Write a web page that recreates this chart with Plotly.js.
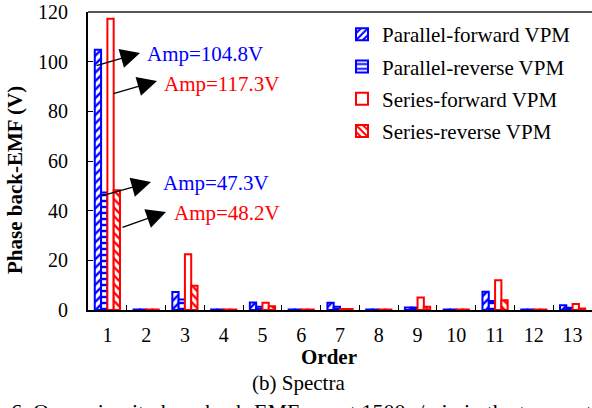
<!DOCTYPE html>
<html>
<head>
<meta charset="utf-8">
<script src="https://cdn.plot.ly/plotly-3.0.1.min.js"></script>
<style>html,body{margin:0;padding:0;background:#fff;}#chart{width:592px;height:408px;}</style>
</head>
<body>
<div id="chart"></div>
<script>
const orders = ['1','2','3','4','5','6','7','8','9','10','11','12','13'];
const parallelForward = [104.8, 0.2, 7.2, 0.2, 3.0, 0.2, 2.9, 0.2, 1.0, 0.2, 7.3, 0.2, 1.9];
const parallelReverse = [47.3, 0.2, 4.2, 0.2, 1.3, 0.2, 1.3, 0.2, 1.0, 0.2, 3.6, 0.2, 0.9];
const seriesForward = [117.3, 0.2, 22.5, 0.2, 2.9, 0.2, 0.4, 0.2, 5.0, 0.2, 12.0, 0.2, 2.4];
const seriesReverse = [48.2, 0.2, 9.8, 0.2, 1.5, 0.2, 0.4, 0.2, 1.3, 0.2, 3.9, 0.2, 0.6];
const seriesNames = ['Parallel-forward VPM','Parallel-reverse VPM','Series-forward VPM','Series-reverse VPM'];
const yTicks = [0, 20, 40, 60, 80, 100, 120];

const BLUE = '#0000ff', RED = '#ff0000';
const FONT = '"Liberation Serif"';

function bar(name, y, color, shape, group) {
  return {
    type: 'bar', name: name, x: orders, y: y, legendgroup: group,
    marker: {
      color: 'white',
      line: {color: color, width: 2},
      pattern: {shape: shape, fgcolor: color, bgcolor: 'white', size: 6, solidity: 0.4}
    },
    hoverinfo: 'skip'
  };
}
const traces = [
  bar(seriesNames[0], parallelForward, BLUE, '/', 'a'),
  bar(seriesNames[1], parallelReverse, BLUE, '-', 'b'),
  bar(seriesNames[2], seriesForward, RED, '', 'c'),
  bar(seriesNames[3], seriesReverse, RED, '\\', 'd')
];

// pixel -> paper helpers (plot area: x 88..592, y 12..310)
const L = 88, R = 592, T = 12, B = 310;
const PX = p => (p - L) / (R - L);
const PY = p => (B - p) / (B - T);

function arrow(x0, y0, x1, y1) {
  return {xref: 'paper', yref: 'paper', x: PX(x1), y: PY(y1), axref: 'pixel', ayref: 'pixel',
    ax: x0 - x1, ay: y0 - y1, text: '', showarrow: true, arrowhead: 2, arrowsize: 3,
    arrowwidth: 1.3, arrowcolor: 'black', standoff: 0, startstandoff: 0};
}
function label(txt, cx, cy, color) {
  return {xref: 'paper', yref: 'paper', x: PX(cx), y: PY(cy), text: txt, showarrow: false,
    xanchor: 'center', yanchor: 'middle', font: {family: FONT, size: 21, color: color}};
}

const annotations = [
  label('Amp=' + parallelForward[0] + 'V', 205, 54, BLUE),
  label('Amp=' + seriesForward[0] + 'V', 221, 84, RED),
  label('Amp=' + parallelReverse[0] + 'V', 216, 183, BLUE),
  label('Amp=' + seriesReverse[0] + 'V', 227, 213, RED),
  arrow(95, 66, 140, 53),
  arrow(112, 94, 157, 81),
  arrow(101, 196, 151, 182),
  arrow(121, 228, 166, 212),
  {xref: 'paper', yref: 'paper', x: PX(15), y: PY(180), text: '<b>Phase back-EMF (V)</b>', textangle: -90,
   showarrow: false, xanchor: 'center', yanchor: 'middle', font: {family: FONT, size: 21, color: 'black'}},
  {xref: 'paper', yref: 'paper', x: PX(329), y: PY(357), text: '<b>Order</b>',
   showarrow: false, xanchor: 'center', yanchor: 'middle', font: {family: FONT, size: 21, color: 'black'}},
  {xref: 'paper', yref: 'paper', x: PX(298), y: PY(383), text: '(b) Spectra',
   showarrow: false, xanchor: 'center', yanchor: 'middle', font: {family: FONT, size: 21, color: 'black'}},
  {xref: 'paper', yref: 'paper', x: PX(9), y: PY(397), text: '6. Open-circuit phase back-EMFs',
   showarrow: false, xanchor: 'left', yanchor: 'top', font: {family: FONT, size: 22, color: 'black'}},
  {xref: 'paper', yref: 'paper', x: PX(338), y: PY(397), text: 'at 1500 r/min in the two motors',
   showarrow: false, xanchor: 'left', yanchor: 'top', font: {family: FONT, size: 22, color: 'black'}}
];

const layout = {
  width: 592, height: 408,
  margin: {l: L, r: 592 - R, t: T, b: 408 - B, pad: 0},
  paper_bgcolor: 'white', plot_bgcolor: 'white',
  font: {family: FONT, size: 20, color: 'black'},
  barmode: 'group', bargap: 0.35, bargroupgap: 0,
  showlegend: true,
  legend: {x: PX(342), y: PY(14), xanchor: 'left', yanchor: 'top', bgcolor: 'rgba(0,0,0,0)',
    font: {family: FONT, size: 21, color: 'black'}, traceorder: 'grouped', tracegroupgap: 2,
    itemwidth: 30},
  xaxis: {type: 'category', range: [-0.5, 12.5], tickson: 'boundaries', ticks: 'inside', ticklen: 5,
    tickwidth: 1, tickcolor: 'black', showline: true, linecolor: 'black', linewidth: 2,
    showgrid: false, zeroline: false, ticklabelstandoff: 6, tickfont: {family: FONT, size: 20}},
  yaxis: {range: [0, 120], tickvals: yTicks, ticks: 'inside', ticklen: 5, tickcolor: 'black',
    showline: true, linecolor: 'black', linewidth: 2, showgrid: false, zeroline: false,
    ticklabelstandoff: 14, tickfont: {family: FONT, size: 20}},
  shapes: [{type: 'line', xref: 'paper', yref: 'paper', x0: 0, x1: 1, y0: 1, y1: 1,
    line: {color: '#555555', width: 2}}],
  annotations: annotations
};

Plotly.newPlot('chart', traces, layout, {staticPlot: true, displayModeBar: false});
</script>
</body>
</html>
